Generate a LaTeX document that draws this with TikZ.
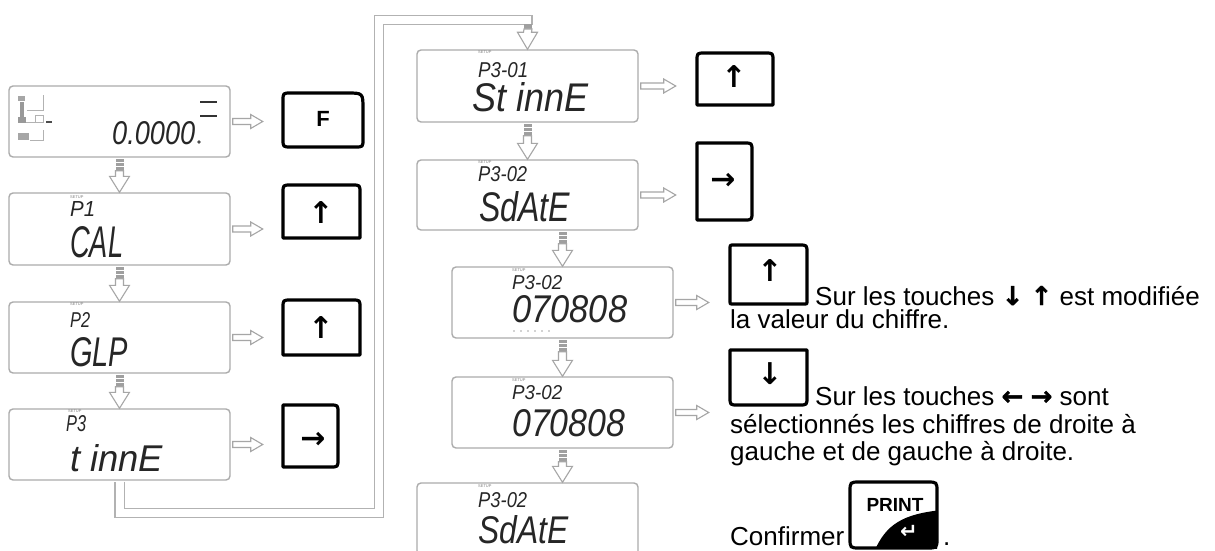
\documentclass[tikz,border=0pt]{standalone}
\usepackage{graphicx}
\usepackage{fontspec}
\setmainfont{Liberation Sans}
\newfontfamily\arrowfont{DejaVu Sans}
\newfontfamily\heavyarrow{DejaVu Sans Bold}[FakeBold=1.5]
\newfontfamily\lcdfont{Liberation Sans}
\usetikzlibrary{calc}
\newcommand\lcdtxt[3]{\resizebox{#1pt}{#2pt}{\lcdfont\itshape #3}}
% down block arrow: #1 start (bottom of upper box), #2 tip (same x)
\newcommand\dnarrow[2]{%
  \fill[hatch] ($(#1)+(-4,1)$) rectangle ($(#1)+(4,13)$);
  \draw[white, line width=0.8pt] ($(#1)+(-4,5)$) -- ($(#1)+(4,5)$) ($(#1)+(-4,9)$) -- ($(#1)+(4,9)$);
  \draw[hollow] ($(#1)+(-4,13)$) -- ($(#1)+(4,13)$) -- ($(#2)+(4,-16)$) -- ($(#2)+(10,-16)$) -- (#2) -- ($(#2)+(-10,-16)$) -- ($(#2)+(-4,-16)$) -- cycle;}
% right block arrow from node #1 east, offsets #2 (start) #3 (tip)
\newcommand\rtarrow[3]{%
  \draw[hollow] ($(#1.east)+(#2,-3)$) -- ($(#1.east)+(#3-12,-3)$) -- ($(#1.east)+(#3-12,-7)$) -- ($(#1.east)+(#3,0)$) -- ($(#1.east)+(#3-12,7)$) -- ($(#1.east)+(#3-12,3)$) -- ($(#1.east)+(#2,3)$) -- cycle;}
% key outline: x1 y1 x2 y2 rTL rTR rBR rBL
\newcommand\keyshape[8]{%
  \draw[keyline] (#1,{#2+#5}) .. controls (#1,#2) .. ({#1+#5},#2) -- ({#3-#6},#2) .. controls (#3,#2) .. (#3,{#2+#6}) -- (#3,{#4-#7}) .. controls (#3,#4) .. ({#3-#7},#4) -- ({#1+#8},#4) .. controls (#1,#4) .. (#1,{#4-#8}) -- cycle;}
\begin{document}
\begin{tikzpicture}[x=1pt,y=-1pt,
  disp/.style={draw=gray!65, line width=1.4pt, rounded corners=4pt, fill=white, minimum width=221pt, inner sep=0pt},
  keyline/.style={line width=3.2pt, line join=round, draw=black},
  hollow/.style={draw=gray!70, line width=1.1pt, fill=white, line join=miter},
  hatch/.style={fill=gray!75},
  band/.style={draw=gray!60, line width=1.3pt, double=white, double distance=8pt},
  lcd/.style={inner sep=0pt, anchor=south west, text=black!85},
  setup/.style={inner sep=0pt, anchor=south west, font=\fontsize{4}{4}\selectfont, text=gray},
  body/.style={inner sep=0pt, anchor=base west, font=\fontsize{26}{30}\selectfont},
  keylbl/.style={inner sep=0pt, font=\arrowfont\bfseries\fontsize{30}{30}\selectfont}]
\useasboundingbox (0,0) rectangle (1215,551);
\clip (0,0) rectangle (1215,551);
\fill[white] (0,0) rectangle (1215,551);

% coordinates of the long double connector
\coordinate (bx) at (379,513);
\coordinate (bandend) at (532,20);

% ---------- displays ----------
\node[disp, minimum height=71pt] (D0) at (119.5,121.5) {};
\node[disp, minimum height=72pt] (D1) at (119.5,229) {};
\node[disp, minimum height=71pt] (D2) at (119.5,337.5) {};
\node[disp, minimum height=71pt] (D3) at (119.5,444.5) {};
\node[disp, minimum height=72pt] (M1) at (527.5,86) {};
\node[disp, minimum height=70pt] (M2) at (527.5,195) {};
\node[disp, minimum height=71pt] (M3) at (562.5,302.5) {};
\node[disp, minimum height=71pt] (M4) at (562.5,412.5) {};
\node[disp, minimum height=72pt] (M5) at (527.5,519) {};

% double band connector from P3 to P3-01
\draw[band] ($(D3.south)+(0,1)$) |- (bx) |- (bandend);
\draw[gray!60, line width=1.3pt] (532,15.2) -- (532,24.8);
\fill[hatch] (524,24.5) rectangle (532,29);
\draw[hollow] (524,29) -- (532,29) -- ($(M1.north)+(4,-17)$) -- ($(M1.north)+(10,-17)$) -- (M1.north) -- ($(M1.north)+(-10,-17)$) -- ($(M1.north)+(-4,-17)$) -- cycle;

% ---------- display contents ----------
% D0 icons
\fill[gray!70] (18,96) rectangle (25,101);
\draw[gray!60, line width=0.9pt] (27,110) -- (43,110) -- (43,95);
\fill[gray!80] (20,102) rectangle (24,121);
\fill[gray!80] (18,117) rectangle (26,123);
\draw[gray!60, line width=0.9pt] (26,122) -- (43,122) -- (43,115) -- (35,115) -- (35,122);
\draw[black!70, line width=1.2pt] (46,122) -- (52,122);
\fill[gray!70] (18,133) rectangle (29,140);
\draw[gray!60, line width=0.9pt] (30,140) -- (43,140) -- (43,130);
\node[lcd] (d0v) at (112,145) {\lcdtxt{83}{23}{0.0000}};
\fill[black!70] (199,142) circle (1.8pt);
\draw[black!80, line width=1.6pt] (200,102) -- (217,102);
\draw[black!80, line width=2.2pt] (200,116) -- (217,116);

\node[setup] (s1) at (70,199) {SETUP};
\node[lcd] (d1a) at (70,217) {\lcdtxt{25}{15}{P1}};
\node[lcd] (d1b) at (70,258) {\lcdtxt{53}{31}{CAL}};
\node[setup] (s2) at (70,306) {SETUP};
\node[lcd] (d2a) at (70,328) {\lcdtxt{20}{15}{P2}};
\node[lcd] (d2b) at (70,367) {\lcdtxt{58}{29}{GLP}};
\node[setup] (s3) at (68,413) {SETUP};
\node[lcd] (d3a) at (66,432) {\lcdtxt{20}{16}{P3}};
\node[lcd] (d3b) at (70,472) {\lcdtxt{93}{27}{t innE}};

\node[setup] (s4) at (478,54) {SETUP};
\node[lcd] (m1a) at (478,78) {\lcdtxt{50}{15}{P3-01}};
\node[lcd] (m1b) at (472,112) {\lcdtxt{116}{29}{St innE}};
\node[setup] (s5) at (478,164) {SETUP};
\node[lcd] (m2a) at (478,182) {\lcdtxt{49}{15}{P3-02}};
\node[lcd] (m2b) at (479,222) {\lcdtxt{91}{30}{SdAtE}};
\node[setup] (s6) at (512,272) {SETUP};
\node[lcd] (m3a) at (512,290) {\lcdtxt{50}{14}{P3-02}};
\node[lcd] (m3b) at (512,323) {\lcdtxt{115}{27}{070808}};
\foreach \dx in {0,7,14,21,28,35} \fill[gray!70] ({514+\dx},331) circle (0.9pt);
\node[setup] (s7) at (512,382) {SETUP};
\node[lcd] (m4a) at (512,400) {\lcdtxt{50}{14}{P3-02}};
\node[lcd] (m4b) at (512,437) {\lcdtxt{113}{27}{070808}};
\node[setup] (s8) at (478,488) {SETUP};
\node[lcd] (m5a) at (478,508) {\lcdtxt{49}{15}{P3-02}};
\node[lcd] (m5b) at (478,544) {\lcdtxt{90}{28}{SdAtE}};

% ---------- down arrows ----------
\dnarrow{D0.south}{D1.north}
\dnarrow{D1.south}{D2.north}
\dnarrow{D2.south}{D3.north}
\dnarrow{M1.south}{M2.north}
\dnarrow{M3.north |- M2.south}{M3.north}
\dnarrow{M3.south}{M4.north}
\dnarrow{M4.south}{M4.south |- M5.north}

% ---------- right arrows ----------
\rtarrow{D0}{2}{32}
\rtarrow{D1}{2}{32}
\rtarrow{D2}{2}{32}
\rtarrow{D3}{2}{32}
\rtarrow{M1}{2}{37}
\rtarrow{M2}{2}{37}
\rtarrow{M3}{2}{35}
\rtarrow{M4}{2}{35}

% ---------- keys ----------
\keyshape{283}{93}{363}{147}{8}{16}{8}{8}
\node[inner sep=0pt, font=\bfseries\fontsize{22}{22}\selectfont] (kF) at (323,119) {F};
\keyshape{283}{185}{360}{238}{8}{8}{0}{0}
\node[keylbl] (kU1) at (321,213) {↑};
\keyshape{283}{300}{360}{355}{8}{8}{0}{0}
\node[keylbl] (kU2) at (321,328) {↑};
\keyshape{283}{405}{338}{467}{0}{8}{8}{0}
\node[keylbl] (kR1) at (313,440) {→};
\keyshape{697}{53}{773}{105}{8}{8}{0}{0}
\node[keylbl] (kU3) at (734,77) {↑};
\keyshape{697}{143}{752}{220}{0}{8}{8}{0}
\node[keylbl] (kR2) at (723,181) {→};
\keyshape{730}{245}{807}{304}{4}{8}{2}{2}
\node[keylbl] (kU4) at (770,271) {↑};
\keyshape{730}{350}{807}{405}{0}{0}{8}{8}
\node[keylbl] (kD) at (770,374) {↓};

% PRINT key
\begin{scope}
\clip (850,482) rectangle (937,548);
\fill[black] (874,552) .. controls (886,524) and (903,514) .. (942,510) -- (942,552) -- cycle;
\end{scope}
\keyshape{850}{482}{937}{548}{10}{10}{10}{10}
\node[inner sep=0pt, font=\bfseries\fontsize{19}{19}\selectfont] (kP) at (895,505) {PRINT};
\node[inner sep=0pt, text=white, font=\arrowfont\bfseries\fontsize{21}{21}\selectfont] (kPe) at (909,532) {↵};

% ---------- explanatory text ----------
\node[body] (t1) at (815,305) {Sur les touches {\heavyarrow ↓} {\heavyarrow ↑} est modifiée};
\node[body] (t2) at (730,328) {la valeur du chiffre.};
\node[body] (t3) at (815,405) {Sur les touches {\heavyarrow ←} {\heavyarrow →} sont};
\node[body] (t4) at (730,433) {sélectionnés les chiffres de droite à};
\node[body] (t5) at (730,460) {gauche et de gauche à droite.};
\node[body] (t6) at (730,545) {Confirmer};
\node[body] (t7) at (943,545) {.};
\end{tikzpicture}
\end{document}
